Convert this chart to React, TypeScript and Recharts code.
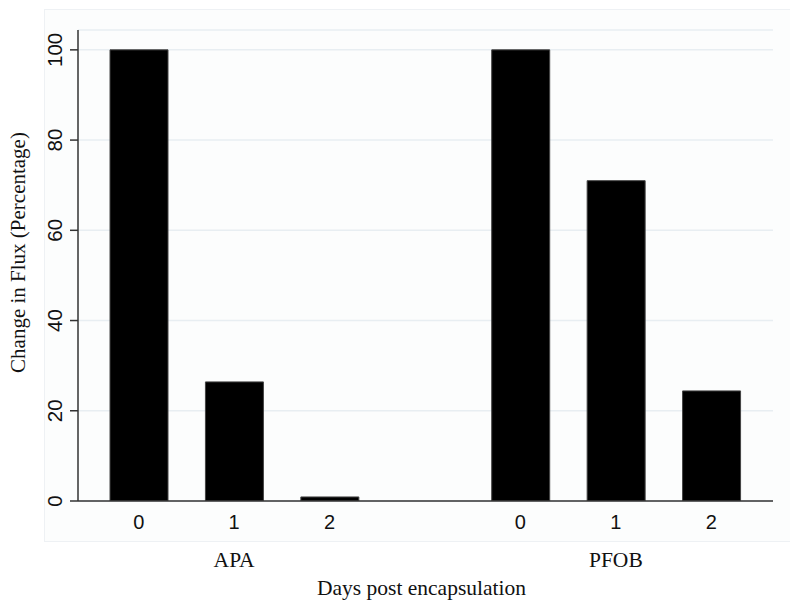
import { BarChart, Bar, XAxis, YAxis, CartesianGrid, Label } from 'recharts';

const groups = ['APA', 'PFOB'];
const days = ['0', '1', '2'];
const apaFlux = [100, 26.4, 0.9];
const pfobFlux = [100, 71, 24.4];
const yTicks = [0, 20, 40, 60, 80, 100];

type Row = { key: string; day: string; group: string; flux: number | null };

const fluxByGroup = [apaFlux, pfobFlux];
const rows: Row[] = [];
groups.forEach((g, gi) => {
  if (gi > 0) rows.push({ key: `gap-${gi}`, day: '', group: '', flux: null });
  days.forEach((d, di) => {
    rows.push({ key: `${g}-${d}`, day: d, group: di === 1 ? g : '', flux: fluxByGroup[gi][di] });
  });
});

const sans = '"Liberation Sans", Arial, sans-serif';
const serif = '"Liberation Serif", "Times New Roman", serif';
const axisColor = '#333';

const RotatedTick = (props: any) => {
  const { x, y, payload } = props;
  return (
    <g transform={`translate(${x},${y}) rotate(-90)`}>
      <text x={0} y={-6} textAnchor="middle" fontFamily={sans} fontSize={20.5} fill="#111">
        {payload.value}
      </text>
    </g>
  );
};

const YTitle = (props: any) => {
  const { viewBox } = props;
  const cx = viewBox.x + 17;
  const cy = viewBox.y + viewBox.height / 2 - 13;
  return (
    <text
      transform={`translate(${cx},${cy}) rotate(-90)`}
      textAnchor="middle"
      fontFamily={serif}
      fontSize={21}
      fill="#111"
    >
      Change in Flux (Percentage)
    </text>
  );
};

export default function App() {
  return (
    <div style={{ position: 'relative', width: 782, height: 594 }}>
      <div
        style={{
          position: 'absolute',
          left: 36,
          top: 1,
          width: 748,
          height: 531,
          border: '1px solid #eef1f4',
          background: '#fcfdfd',
        }}
      />
      <div style={{ position: 'absolute', left: 0, top: 0 }}>
        <BarChart
          width={782}
          height={594}
          data={rows}
          margin={{ top: 22, right: 17, left: 0, bottom: 3 }}
          barSize={58}
        >
          <CartesianGrid horizontal vertical={false} stroke="#e8eef2" strokeWidth={1.5} />
          <XAxis
            xAxisId="day"
            dataKey="key"
            height={40}
            padding={{ left: 13, right: 14 }}
            tickFormatter={(_v: any, i: number) => rows[i]?.day ?? ''}
            interval={0}
            tickLine={false}
            tickMargin={8}
            axisLine={{ stroke: axisColor, strokeWidth: 1.5 }}
            tick={{ fontFamily: sans, fontSize: 20, fill: '#111' }}
          />
          <XAxis
            xAxisId="group"
            dataKey="key"
            height={58}
            padding={{ left: 13, right: 14 }}
            tickFormatter={(_v: any, i: number) => rows[i]?.group ?? ''}
            interval={0}
            tickLine={false}
            axisLine={false}
            tickMargin={5}
            tick={{ fontFamily: serif, fontSize: 21.5, fill: '#111' }}
          >
            <Label
              value="Days post encapsulation"
              position="insideBottom"
              offset={4}
              dx={-4}
              style={{ fontFamily: serif, fontSize: 21.5, fill: '#111' }}
            />
          </XAxis>
          <YAxis
            width={70}
            domain={[0, 104.4]}
            ticks={yTicks}
            allowDataOverflow
            tickSize={8}
            tickLine={{ stroke: axisColor, strokeWidth: 1.5 }}
            axisLine={{ stroke: axisColor, strokeWidth: 1.5 }}
            tick={<RotatedTick />}
          >
            <Label content={<YTitle />} />
          </YAxis>
          <Bar
            xAxisId="day"
            dataKey="flux"
            fill="#000"
            stroke="#444"
            strokeWidth={1}
            isAnimationActive={false}
          />
        </BarChart>
      </div>
    </div>
  );
}
